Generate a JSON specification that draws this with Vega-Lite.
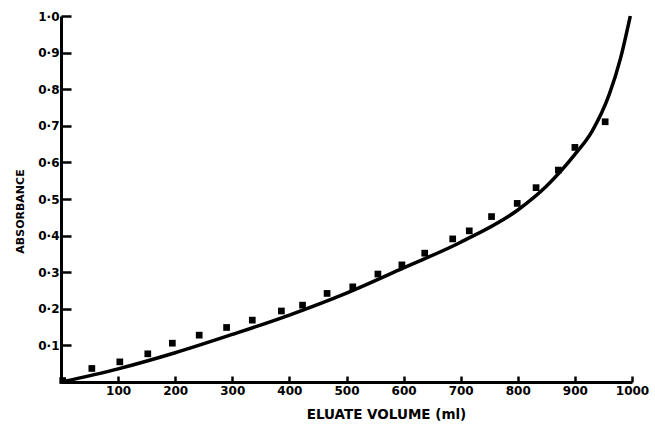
{
  "$schema": "https://vega.github.io/schema/vega-lite/v6.json",
  "autosize": "none",
  "width": 571,
  "height": 366,
  "padding": {"left": 61, "top": 16, "right": 23, "bottom": 42},
  "background": "white",
  "config": {
    "view": {"stroke": null},
    "axis": {
      "domainColor": "black",
      "domainWidth": 3,
      "tickColor": "black",
      "tickWidth": 2.5,
      "labelColor": "black",
      "labelFont": "DejaVu Sans",
      "labelFontWeight": "bold",
      "labelFontSize": 12,
      "titleColor": "black",
      "titleFont": "DejaVu Sans",
      "titleFontWeight": "bold",
      "grid": false
    }
  },
  "datasets": {
    "curve": [
      {"volume": 0, "absorbance": 0},
      {"volume": 100, "absorbance": 0.036},
      {"volume": 200, "absorbance": 0.080},
      {"volume": 300, "absorbance": 0.130},
      {"volume": 400, "absorbance": 0.183},
      {"volume": 500, "absorbance": 0.243},
      {"volume": 600, "absorbance": 0.312},
      {"volume": 700, "absorbance": 0.382},
      {"volume": 800, "absorbance": 0.470},
      {"volume": 850, "absorbance": 0.535},
      {"volume": 900, "absorbance": 0.622},
      {"volume": 930, "absorbance": 0.685},
      {"volume": 960, "absorbance": 0.785},
      {"volume": 980, "absorbance": 0.885},
      {"volume": 997, "absorbance": 1.0}
    ],
    "obs": [
      {"volume": 3, "absorbance": 0.004},
      {"volume": 54, "absorbance": 0.037},
      {"volume": 103, "absorbance": 0.055},
      {"volume": 152, "absorbance": 0.077},
      {"volume": 195, "absorbance": 0.106},
      {"volume": 242, "absorbance": 0.128},
      {"volume": 290, "absorbance": 0.149},
      {"volume": 335, "absorbance": 0.169},
      {"volume": 386, "absorbance": 0.194},
      {"volume": 423, "absorbance": 0.210},
      {"volume": 466, "absorbance": 0.242},
      {"volume": 511, "absorbance": 0.260},
      {"volume": 555, "absorbance": 0.295},
      {"volume": 597, "absorbance": 0.320},
      {"volume": 637, "absorbance": 0.352},
      {"volume": 686, "absorbance": 0.391},
      {"volume": 715, "absorbance": 0.413},
      {"volume": 754, "absorbance": 0.452},
      {"volume": 799, "absorbance": 0.488},
      {"volume": 832, "absorbance": 0.531},
      {"volume": 871, "absorbance": 0.579},
      {"volume": 900, "absorbance": 0.641},
      {"volume": 953, "absorbance": 0.711}
    ]
  },
  "encoding": {
    "x": {
      "field": "volume",
      "type": "quantitative",
      "scale": {"domain": [0, 1000], "nice": false, "zero": true},
      "axis": {
        "title": "ELUATE VOLUME (ml)",
        "values": [0, 100, 200, 300, 400, 500, 600, 700, 800, 900, 1000],
        "labelExpr": "datum.value == 0 ? '' : datum.label",
        "format": "d",
        "tickSize": -6,
        "labelPadding": 9,
        "titleFontSize": 13.5,
        "titleX": 325,
        "titleY": 36,
        "titleBaseline": "alphabetic",
        "labelFlush": false
      }
    },
    "y": {
      "field": "absorbance",
      "type": "quantitative",
      "scale": {"domain": [0, 1], "nice": false},
      "axis": {
        "title": "ABSORBANCE",
        "values": [0, 0.1, 0.2, 0.3, 0.4, 0.5, 0.6, 0.7, 0.8, 0.9, 1.0],
        "labelExpr": "datum.value == 0 ? '' : replace(format(datum.value, '.1f'), '.', '·')",
        "tickSize": -10,
        "labelPadding": 12,
        "titleFontSize": 11,
        "titleX": -41,
        "titleY": 195,
        "titleAngle": -90,
        "titleAlign": "center",
        "titleBaseline": "middle",
        "labelFlush": false
      }
    }
  },
  "layer": [
    {
      "data": {"name": "curve"},
      "mark": {"type": "line", "color": "black", "strokeWidth": 3.5, "interpolate": "monotone", "clip": false}
    },
    {
      "data": {"name": "obs"},
      "mark": {"type": "point", "shape": "square", "filled": true, "color": "black", "opacity": 1, "size": 45}
    }
  ]
}
